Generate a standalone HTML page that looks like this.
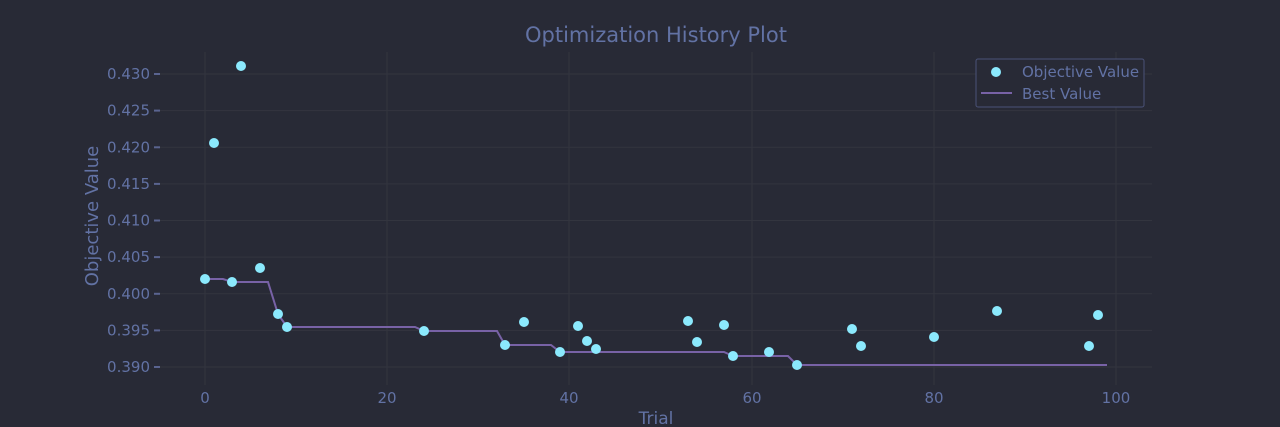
<!DOCTYPE html>
<html><head><style>
html,body{margin:0;padding:0;background:#282a36;}
svg{display:block;font-family:"DejaVu Sans","Liberation Sans",sans-serif;}
</style></head><body>
<svg width="1280" height="427" viewBox="0 0 1280 427">
<rect width="1280" height="427" fill="#282a36"/>
<g stroke="#33353f" stroke-width="1">
<line x1="205" y1="52" x2="205" y2="385"/><line x1="387" y1="52" x2="387" y2="385"/><line x1="569" y1="52" x2="569" y2="385"/><line x1="752" y1="52" x2="752" y2="385"/><line x1="934" y1="52" x2="934" y2="385"/><line x1="1116" y1="52" x2="1116" y2="385"/>
<line x1="160" y1="74" x2="1152" y2="74"/><line x1="160" y1="110.6" x2="1152" y2="110.6"/><line x1="160" y1="147.3" x2="1152" y2="147.3"/><line x1="160" y1="183.9" x2="1152" y2="183.9"/><line x1="160" y1="220.5" x2="1152" y2="220.5"/><line x1="160" y1="257.1" x2="1152" y2="257.1"/><line x1="160" y1="293.8" x2="1152" y2="293.8"/><line x1="160" y1="330.4" x2="1152" y2="330.4"/><line x1="160" y1="367" x2="1152" y2="367"/>
</g>
<g stroke="#5a6490" stroke-width="2">
<line x1="154" y1="74" x2="160" y2="74"/><line x1="154" y1="110.6" x2="160" y2="110.6"/><line x1="154" y1="147.3" x2="160" y2="147.3"/><line x1="154" y1="183.9" x2="160" y2="183.9"/><line x1="154" y1="220.5" x2="160" y2="220.5"/><line x1="154" y1="257.1" x2="160" y2="257.1"/><line x1="154" y1="293.8" x2="160" y2="293.8"/><line x1="154" y1="330.4" x2="160" y2="330.4"/><line x1="154" y1="367" x2="160" y2="367"/>
</g>
<g fill="#6272a4" font-size="15" text-anchor="end">
<text x="150" y="79">0.430</text><text x="150" y="115.6">0.425</text><text x="150" y="152.3">0.420</text><text x="150" y="188.9">0.415</text><text x="150" y="225.5">0.410</text><text x="150" y="262.1">0.405</text><text x="150" y="298.8">0.400</text><text x="150" y="335.4">0.395</text><text x="150" y="372">0.390</text>
</g>
<g fill="#6272a4" font-size="15" text-anchor="middle">
<text x="205" y="403">0</text><text x="387" y="403">20</text><text x="569" y="403">40</text><text x="752" y="403">60</text><text x="934" y="403">80</text><text x="1116" y="403">100</text>
<text x="656" y="424" font-size="17">Trial</text>
<text x="656" y="42" font-size="21">Optimization History Plot</text>
<text transform="translate(98,216) rotate(-90)" font-size="18">Objective Value</text>
</g>
<polyline fill="none" stroke="#7862a6" stroke-width="2" points="205,279 223,279 232,282 268,282 278,314 287,327 415,327 424,331 497,331 505,345 551,345 560,352 724,352 733,356 788,356 797,365 1107,365"/>
<g fill="#8be9fd">
<circle cx="205" cy="279" r="5"/><circle cx="214" cy="143" r="5"/><circle cx="232" cy="282" r="5"/><circle cx="241" cy="66" r="5"/><circle cx="260" cy="268" r="5"/><circle cx="278" cy="314" r="5"/><circle cx="287" cy="327" r="5"/><circle cx="424" cy="331" r="5"/><circle cx="505" cy="345" r="5"/><circle cx="524" cy="322" r="5"/><circle cx="560" cy="352" r="5"/><circle cx="578" cy="326" r="5"/><circle cx="587" cy="341" r="5"/><circle cx="596" cy="349" r="5"/><circle cx="688" cy="321" r="5"/><circle cx="697" cy="342" r="5"/><circle cx="724" cy="325" r="5"/><circle cx="733" cy="356" r="5"/><circle cx="769" cy="352" r="5"/><circle cx="797" cy="365" r="5"/><circle cx="852" cy="329" r="5"/><circle cx="861" cy="346" r="5"/><circle cx="934" cy="337" r="5"/><circle cx="997" cy="311" r="5"/><circle cx="1089" cy="346" r="5"/><circle cx="1098" cy="315" r="5"/>
</g>
<rect x="976" y="59" width="168" height="48" rx="2" fill="#282a36" stroke="#4a5278" stroke-width="1"/>
<circle cx="996" cy="72" r="5" fill="#8be9fd"/>
<line x1="981" y1="93" x2="1012" y2="93" stroke="#7862a6" stroke-width="2"/>
<g fill="#6272a4" font-size="15"><text x="1022" y="77">Objective Value</text><text x="1022" y="99">Best Value</text></g>
</svg>
</body></html>
